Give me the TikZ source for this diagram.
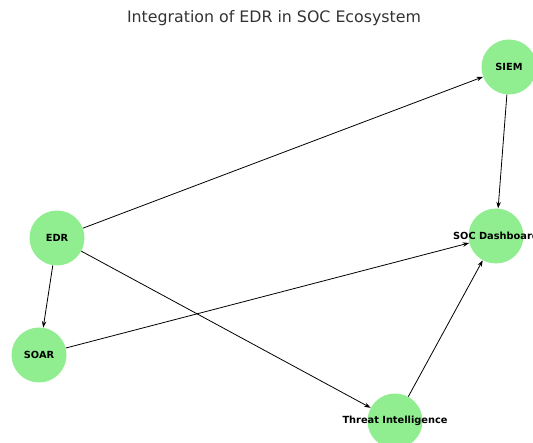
\documentclass[tikz,border=0pt]{standalone}
\usepackage{fontspec}
\setmainfont{DejaVu Sans}
\usetikzlibrary{arrows.meta}
\definecolor{nodegreen}{HTML}{90EE90}
\tikzset{
  gnode/.style={circle, fill=nodegreen, draw=none, minimum size=55pt, inner sep=0pt,
    label={[font=\fontsize{9.8}{11}\selectfont\bfseries, text=black, inner sep=0pt]center:#1}},
  conn/.style={draw=black, line width=0.8pt, -{Stealth[length=6.5pt,width=4.5pt]}}
}
\begin{document}
\begin{tikzpicture}[x=1pt,y=-1pt]
\useasboundingbox (0,0) rectangle (533,443);
\node[font=\fontsize{15.8}{18}\selectfont, text=black!80] (title) at (274,18) {Integration of EDR in SOC Ecosystem};
\node[gnode=SIEM] (siem) at (509,67) {};
\node[gnode=SOC Dashboard] (soc) at (496,236) {};
\node[gnode=EDR] (edr) at (57,238) {};
\node[gnode=SOAR] (soar) at (39,355) {};
\node[gnode=Threat Intelligence] (ti) at (395,421) {};
\draw[conn] (edr) -- (siem);
\draw[conn] (edr) -- (soar);
\draw[conn] (edr) -- (ti);
\draw[conn] (soar) -- (soc);
\draw[conn] (ti) -- (soc);
\draw[conn] (siem) -- (soc);
\end{tikzpicture}
\end{document}
